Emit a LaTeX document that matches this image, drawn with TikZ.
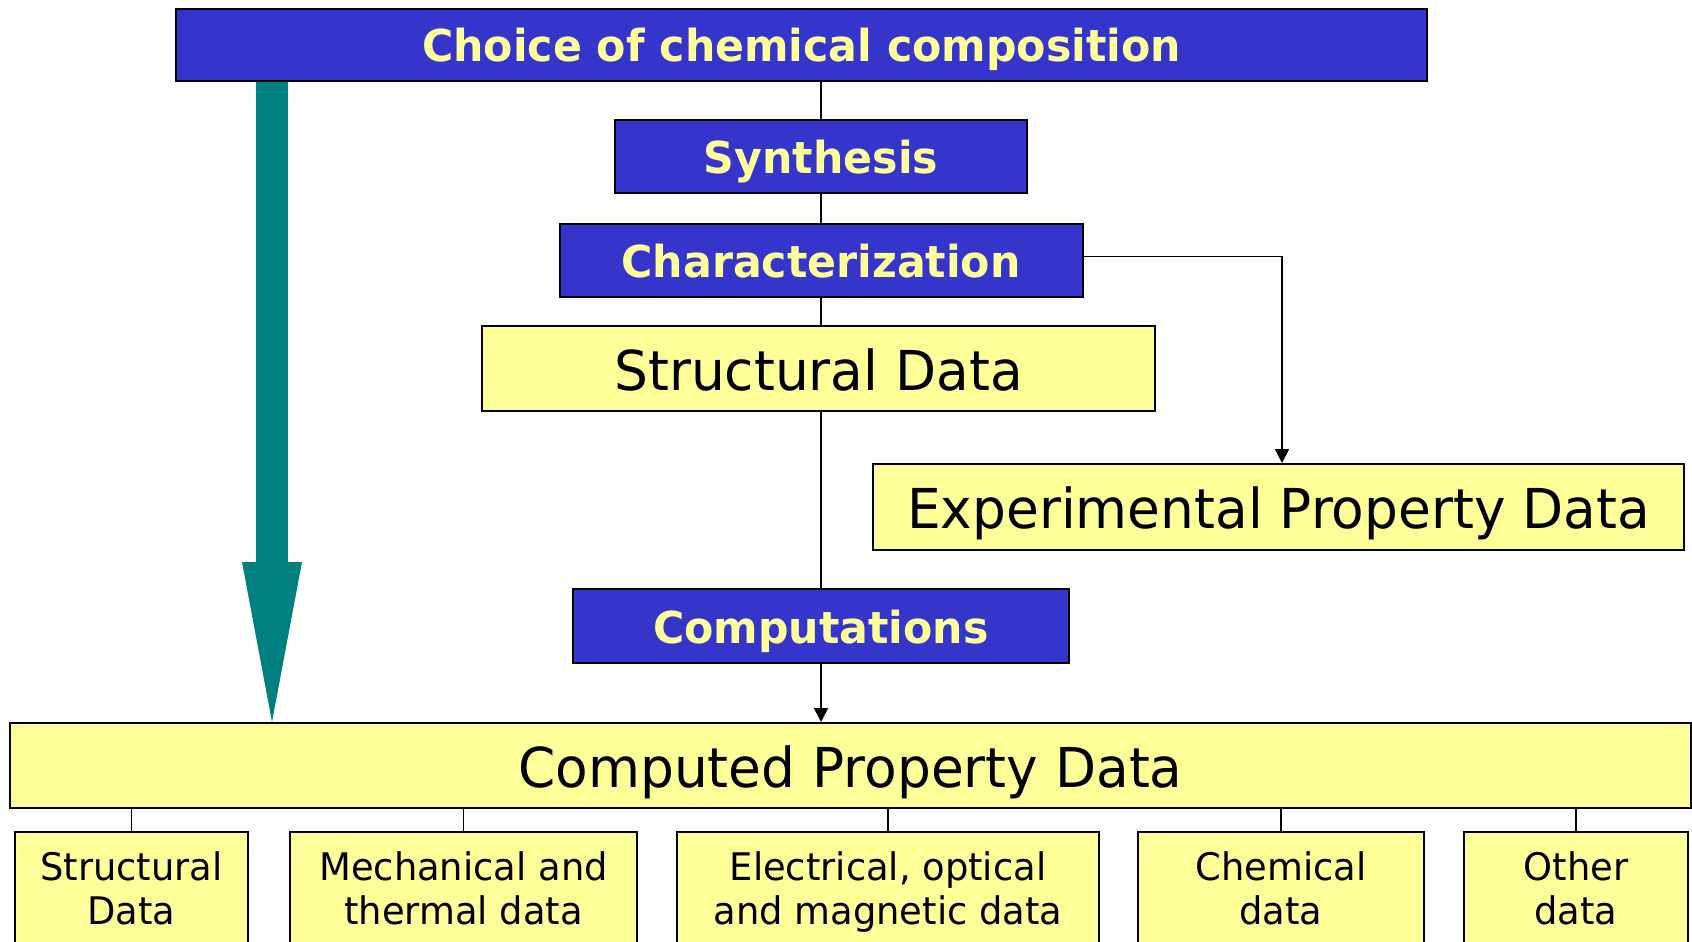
\documentclass[tikz,border=0pt]{standalone}
\usepackage{fontspec}
\setmainfont{DejaVu Sans}[FakeStretch=0.97]
\usetikzlibrary{arrows.meta,backgrounds}

\definecolor{boxblue}{RGB}{53,53,204}
\definecolor{boxyellow}{RGB}{255,255,153}
\definecolor{arrowteal}{RGB}{0,128,128}

\tikzset{
  stagebox/.style={draw=black, line width=2pt, fill=boxblue, text=boxyellow,
    font=\fontsize{44}{50}\selectfont\bfseries, inner sep=0pt,
    text height=36pt, text depth=2pt},
  databox/.style={draw=black, line width=2pt, fill=boxyellow, text=black,
    font=\fontsize{55}{60}\selectfont, inner sep=0pt,
    text height=45pt, text depth=2pt},
  kindbox/.style={draw=black, line width=2pt, fill=boxyellow, text=black,
    align=center, font=\fontsize{38}{44}\selectfont, inner sep=0pt,
    minimum height=114pt, text height=72pt, text depth=2pt},
  link/.style={line width=1.6pt},
  linkarrow/.style={link, -{Triangle[length=14pt,width=14pt]}},
}

\begin{document}
\begin{tikzpicture}[x=1pt, y=-1pt]
\clip (0,0) rectangle (1692,942);
\begin{scope}[on background layer]
\fill[white] (0,0) rectangle (1692,942);
\end{scope}

% stages
\node[stagebox, minimum width=1251pt, minimum height=72pt] (choice) at (801.5,45) {Choice of chemical composition};
\node[stagebox, minimum width=412pt, minimum height=73pt] (synth) at (821,156.5) {Synthesis};
\node[stagebox, minimum width=523pt, minimum height=73pt] (charac) at (821,260.5) {Characterization};
\node[databox, minimum width=673pt, minimum height=85pt] (struct) at (818.5,368.5) {Structural Data};
\node[databox, minimum width=811pt, minimum height=86pt] (expt) at (1278.5,507) {Experimental Property Data};
\node[stagebox, minimum width=496pt, minimum height=74pt] (comput) at (821,626) {Computations};
\node[databox, minimum width=1681pt, minimum height=85pt] (computed) at (850.5,765.5) {Computed Property Data};

% kinds of computed data
\node[kindbox, minimum width=233pt] (sdata) at (131.5,889) {Structural\\Data};
\node[kindbox, minimum width=347pt] (mdata) at (463.5,889) {Mechanical and\\thermal data};
\node[kindbox, minimum width=422pt] (edata) at (888,889) {Electrical, optical\\and magnetic data};
\node[kindbox, minimum width=286pt] (cdata) at (1281,889) {Chemical\\data};
\node[kindbox, minimum width=224pt] (odata) at (1576,889) {Other\\data};

% links
\draw[link] (synth.north) -- (synth.north |- choice.south);
\draw[link] (synth.south) -- (charac.north);
\draw[link] (charac.south) -- (charac.south |- struct.north);
\draw[link] (comput.north |- struct.south) -- (comput.north);
\draw[linkarrow] (comput.south) -- (comput.south |- computed.north);
\draw[linkarrow] ([yshift=4pt]charac.east) -| ([xshift=3.5pt]expt.north);
\foreach \k in {sdata,mdata,edata,cdata,odata}
  \draw[link] (\k.north) -- (\k.north |- computed.south);

% shortcut arrow
\coordinate (leftx) at (272,0);
\begin{scope}[on background layer]
\draw[arrowteal, line width=32pt, -{Triangle[length=160pt,width=60pt,line width=0pt]}]
  (leftx |- choice.south) -- (leftx |- computed.north);
\end{scope}
\end{tikzpicture}
\end{document}
